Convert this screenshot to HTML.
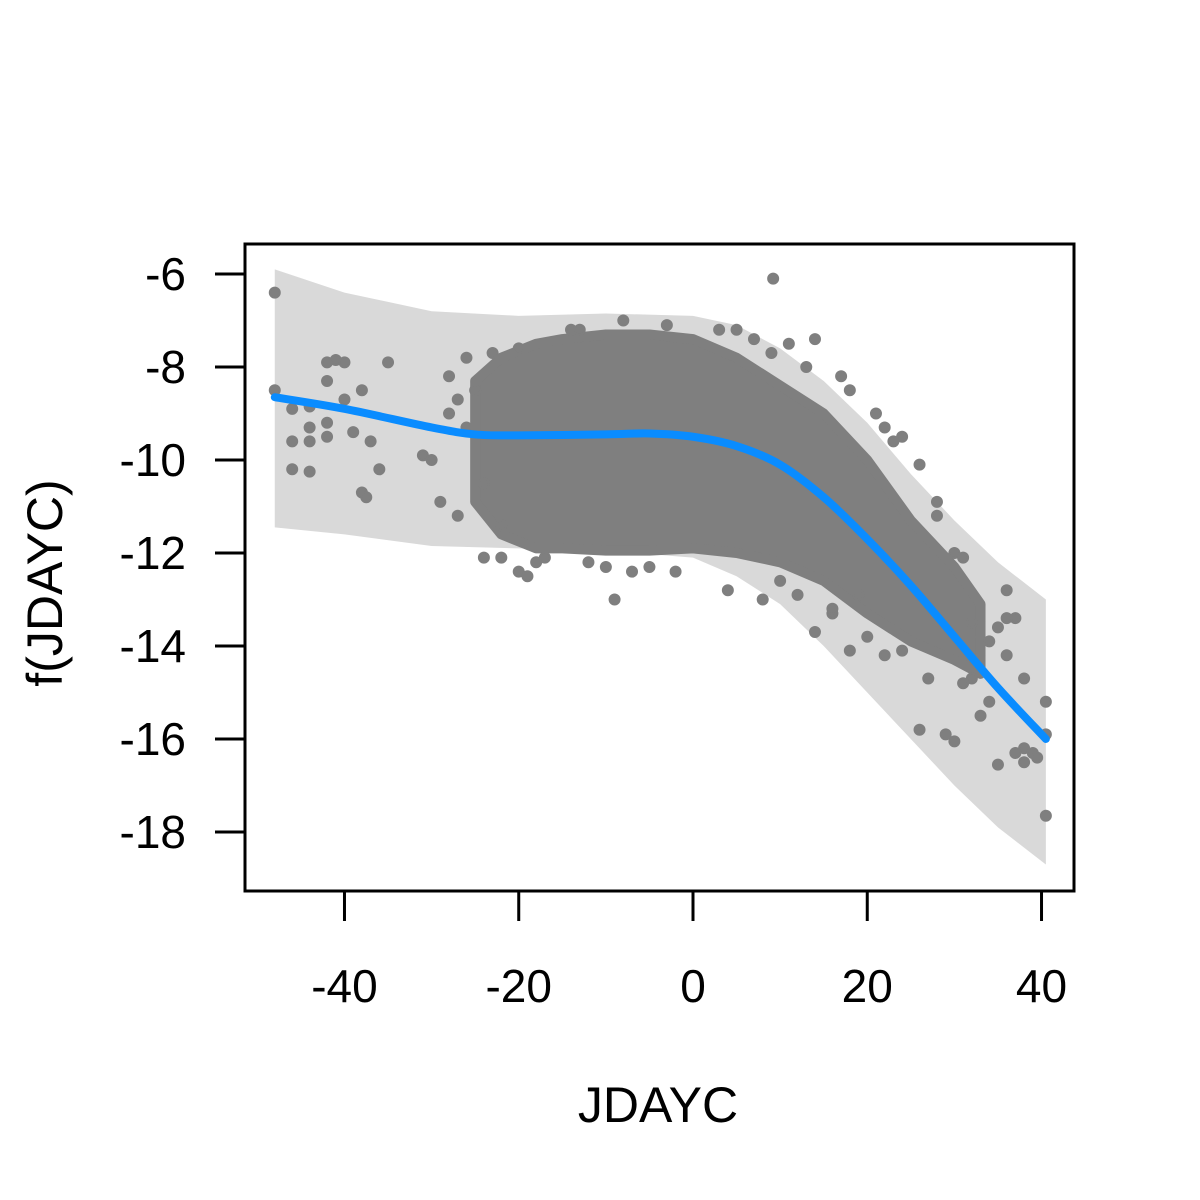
<!DOCTYPE html>
<html><head><meta charset="utf-8"><style>
html,body{margin:0;padding:0;background:#fff}
svg{display:block}
text{font-family:"Liberation Sans",Arial,sans-serif;fill:#000}
</style></head><body>
<svg id="chart" width="1200" height="1200" viewBox="0 0 1200 1200">
<g id="band"></g>
<g id="cloud"></g>
<g id="curve"></g>
<rect x="245" y="244" width="829" height="647" fill="none" stroke="#000" stroke-width="3"/>
<g id="xaxis"></g>
<g id="yaxis"></g>
<text x="658" y="1122" font-size="50" text-anchor="middle">JDAYC</text>
<text transform="translate(62,583) rotate(-90)" font-size="50" text-anchor="middle">f(JDAYC)</text>
</svg>
<script>
const bandX=[-48,-40,-30,-20,-10,0,5,10,15,20,25,30,35,40.5];
const bandUpper=[-5.9,-6.4,-6.8,-6.9,-6.85,-6.9,-7.1,-7.6,-8.3,-9.2,-10.3,-11.3,-12.2,-13.0];
const bandLower=[-11.45,-11.6,-11.85,-11.9,-11.95,-12.1,-12.5,-13.1,-14.0,-15.0,-16.0,-17.0,-17.9,-18.7];
const curveX=[-48,-40,-30,-25,-20,-10,-5,0,5,10,15,20,25,30,35,40.5];
const curveY=[-8.65,-8.9,-9.3,-9.45,-9.47,-9.45,-9.43,-9.5,-9.7,-10.1,-10.8,-11.7,-12.7,-13.8,-14.9,-16.0];
const coreX=[-25,-22,-18,-15,-10,-5,0,5,10,15,20,25,30,33];
const coreUpper=[-8.3,-7.8,-7.5,-7.4,-7.3,-7.3,-7.4,-7.8,-8.4,-9.0,-10.0,-11.3,-12.3,-13.1];
const coreLower=[-10.9,-11.6,-11.9,-11.9,-11.95,-11.95,-11.9,-12.0,-12.2,-12.6,-13.3,-13.9,-14.3,-14.6];
const ptX=[-48,-48,-46,-46,-46,-44,-44,-44,-44,-42,-42,-42,-42,-41,-40,-40,-39,-38,-38,-37.5,-37,-36,-35,-31,-30,-29,-28,-28,-27,-26,-24,-22,-20,-19,-17,-10,-9,-7,-2,4,8,9.2,12,14,14,18,26,29,30,32,34,35,36,36,37,38,38,39,39.5,40.5,40.5,40.5,38,37,35,33,31,22,24,26,28,30,31,28,18,17,13,11,9,5,-8,-13,-20,-25,-27,-23,32,27,24,22,20,16,19,-26,-24,-22,34,36,-14,-3,3,7,-18,-12,-5,10,16,21,23];
const ptY=[-6.4,-8.5,-8.9,-9.6,-10.2,-10.25,-9.6,-9.3,-8.85,-9.5,-9.2,-8.3,-7.9,-7.85,-8.7,-7.9,-9.4,-8.5,-10.7,-10.8,-9.6,-10.2,-7.9,-9.9,-10,-10.9,-8.2,-9.0,-11.2,-7.8,-12.1,-12.1,-12.4,-12.5,-12.1,-12.3,-13.0,-12.4,-12.4,-12.8,-13,-6.1,-12.9,-7.4,-13.7,-14.1,-15.8,-15.9,-16.05,-14.7,-15.2,-16.55,-12.8,-14.2,-16.3,-16.2,-16.5,-16.3,-16.4,-17.65,-15.9,-15.2,-14.7,-13.4,-13.6,-15.5,-14.8,-9.3,-9.5,-10.1,-10.9,-12.0,-12.1,-11.2,-8.5,-8.2,-8.0,-7.5,-7.7,-7.2,-7.0,-7.2,-7.6,-8.5,-8.7,-7.7,-13.5,-14.7,-14.1,-14.2,-13.8,-13.3,-12.9,-9.3,-10.5,-11.4,-13.9,-13.4,-7.2,-7.1,-7.2,-7.4,-12.2,-12.2,-12.3,-12.6,-13.2,-9.0,-9.6];
const xTicks=[-40,-20,0,20,40];
const yTicks=[-6,-8,-10,-12,-14,-16,-18];
const NS="http://www.w3.org/2000/svg";
function sx(v){return 693+8.713*v;}
function sy(v){return 274+46.5*(-6-v);}
function mk(t,a,p){const e=document.createElementNS(NS,t);for(const k in a)e.setAttribute(k,a[k]);p.appendChild(e);return e;}
function poly(xs,up,lo){let pts=[];for(let i=0;i<xs.length;i++)pts.push(sx(xs[i])+","+sy(up[i]));for(let i=xs.length-1;i>=0;i--)pts.push(sx(xs[i])+","+sy(lo[i]));return pts.join(" ");}
function smooth(xs,ys){const P=xs.map((x,i)=>[sx(x),sy(ys[i])]);let d='M'+P[0][0]+','+P[0][1];
 for(let i=0;i<P.length-1;i++){const p0=P[Math.max(0,i-1)],p1=P[i],p2=P[i+1],p3=P[Math.min(P.length-1,i+2)];
 d+='C'+(p1[0]+(p2[0]-p0[0])/6)+','+(p1[1]+(p2[1]-p0[1])/6)+' '+(p2[0]-(p3[0]-p1[0])/6)+','+(p2[1]-(p3[1]-p1[1])/6)+' '+p2[0]+','+p2[1];}
 return d;}
const band=document.getElementById('band');
const bp=mk('polygon',{points:poly(bandX,bandUpper,bandLower),fill:'#d9d9d9'},band);


const cloud=document.getElementById('cloud');
const cp=mk('polygon',{points:poly(coreX,coreUpper,coreLower),fill:'#7f7f7f',stroke:'#7f7f7f','stroke-width':10,'stroke-linejoin':'round'},cloud);


for(let i=0;i<ptX.length;i++){
  const c=mk('circle',{cx:sx(ptX[i]),cy:sy(ptY[i]),r:5,fill:'#7f7f7f',stroke:'#7f7f7f','stroke-width':2},cloud);
  
  
}
const curve=document.getElementById('curve');
const cl=mk('path',{d:smooth(curveX,curveY),fill:'none',stroke:'#0a8cff','stroke-width':8,'stroke-linejoin':'round','stroke-linecap':'round'},curve);


const xa=document.getElementById('xaxis');
xTicks.forEach(v=>{
  const l=mk('line',{x1:sx(v),x2:sx(v),y1:891,y2:921,stroke:'#000','stroke-width':3},xa);
  
  
  const t=mk('text',{x:sx(v),y:1002,'font-size':46,'text-anchor':'middle'},xa);t.textContent=v;
  
  
});
const ya=document.getElementById('yaxis');
yTicks.forEach(v=>{
  const l=mk('line',{x1:215,x2:245,y1:sy(v),y2:sy(v),stroke:'#000','stroke-width':3},ya);
  
  
  const t=mk('text',{x:186,y:sy(v)+16,'font-size':46,'text-anchor':'end'},ya);t.textContent=v;
  
  
});
</script>
</body></html>
